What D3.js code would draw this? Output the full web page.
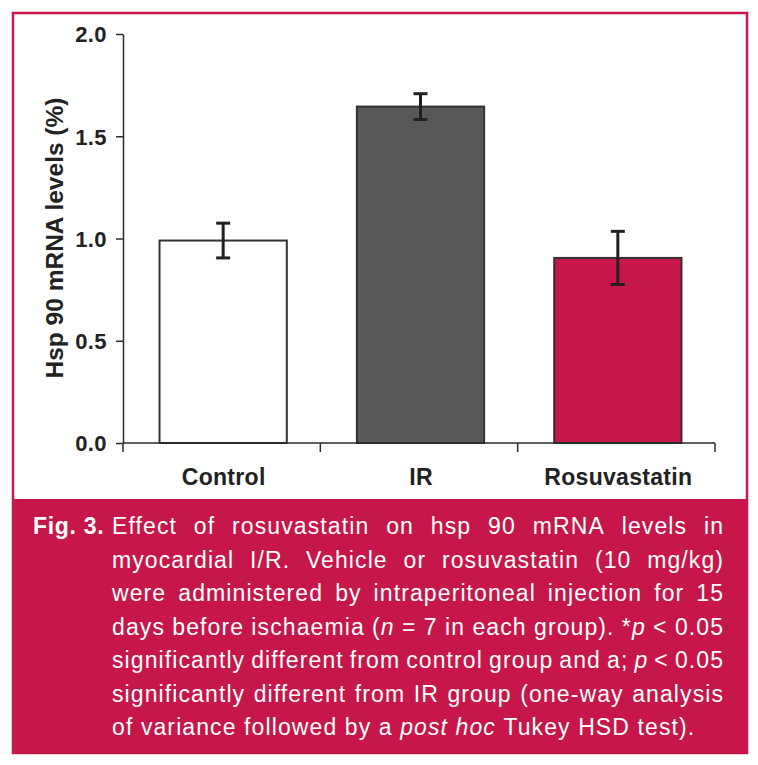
<!DOCTYPE html>
<html>
<head>
<meta charset="utf-8">
<script src="https://cdn.jsdelivr.net/npm/d3@7"></script>
<style>
  body { margin: 0; background: #fff; }
  text { font-family: "Liberation Sans", Arial, Helvetica, sans-serif; }
</style>
</head>
<body>
<svg id="chart"></svg>
<script>
// data
const categories = ["Control", "IR", "Rosuvastatin"];
const means = [0.99, 1.645, 0.905];
const errors = [0.085, 0.063, 0.13];
const yTicks = [0, 0.5, 1.0, 1.5, 2.0];
const yLabel = "Hsp 90 mRNA levels (%)";
const figTag = "Fig. 3.";
// _x_ marks italic runs
const captionLines = [
    "Effect of rosuvastatin on hsp 90 mRNA levels in",
    "myocardial I/R. Vehicle or rosuvastatin (10 mg/kg)",
    "were administered by intraperitoneal injection for 15",
    "days before ischaemia (_n_ = 7 in each group). *_p_ < 0.05",
    "significantly different from control group and a; _p_ < 0.05",
    "significantly different from IR group (one-way analysis",
    "of variance followed by a _post hoc_ Tukey HSD test)."
];

const W = 758, H = 765;
const crimson = "#c6164a";
const barColors = ["#ffffff", "#58585a", crimson];
const ink = "#2b2b2b";

const svg = d3.select("#chart")
    .attr("width", W)
    .attr("height", H);

// frame and caption panel
svg.append("rect")
    .attr("x", 13).attr("y", 13)
    .attr("width", 734).attr("height", 740)
    .attr("fill", "#fff")
    .attr("stroke", crimson)
    .attr("stroke-width", 2.5);

svg.append("rect")
    .attr("x", 12).attr("y", 499)
    .attr("width", 736).attr("height", 255)
    .attr("fill", crimson);

// scales
const plot = {left: 123, right: 715, top: 34, bottom: 443};

const x = d3.scaleBand()
    .domain(categories)
    .range([plot.left, plot.right])
    .paddingInner(0)
    .paddingOuter(0);

const y = d3.scaleLinear()
    .domain([0, 2])
    .range([plot.bottom, plot.top]);

const barW = x.bandwidth() * 0.645;
const g = svg.append("g");

// bars
g.selectAll(".bar")
    .data(categories)
    .enter()
    .append("rect")
    .attr("class", "bar")
    .attr("x", d => x(d) + x.bandwidth() / 2 - barW / 2 + 1.5)
    .attr("y", (d, i) => y(means[i]))
    .attr("width", barW)
    .attr("height", (d, i) => y(0) - y(means[i]))
    .attr("fill", (d, i) => barColors[i])
    .attr("stroke", "#333")
    .attr("stroke-width", 2);

// error bars
const eb = g.selectAll(".err")
    .data(categories)
    .enter()
    .append("g")
    .attr("class", "err")
    .attr("transform", d => "translate(" + (x(d) + x.bandwidth() / 2 + 1.5) + ",0)")
    .attr("stroke", "#231f20")
    .attr("stroke-width", 3);

eb.append("line")
    .attr("y1", (d, i) => y(means[i] + errors[i]))
    .attr("y2", (d, i) => y(means[i] - errors[i]));
eb.append("line")
    .attr("x1", -7).attr("x2", 7)
    .attr("y1", (d, i) => y(means[i] + errors[i]))
    .attr("y2", (d, i) => y(means[i] + errors[i]));
eb.append("line")
    .attr("x1", -7).attr("x2", 7)
    .attr("y1", (d, i) => y(means[i] - errors[i]))
    .attr("y2", (d, i) => y(means[i] - errors[i]));

// y axis
const yAxis = svg.append("g")
    .attr("transform", "translate(" + plot.left + ",0)")
    .call(d3.axisLeft(y)
        .tickValues(yTicks)
        .tickFormat(d3.format(".1f"))
        .tickSize(7)
        .tickSizeOuter(0)
        .tickPadding(9));
yAxis.selectAll("path, line").attr("stroke", ink).attr("stroke-width", 1.5);
yAxis.selectAll("text")
    .attr("fill", "#222")
    .style("font-size", "22px")
    .style("font-weight", "bold")
    .style("letter-spacing", "0.4px")
    .attr("dy", "0.36em");

// x axis: baseline with ticks at band edges
const xAxis = svg.append("g");
xAxis.append("line")
    .attr("x1", plot.left).attr("x2", plot.right)
    .attr("y1", y(0)).attr("y2", y(0))
    .attr("stroke", ink).attr("stroke-width", 1.5);
const edges = categories.map(c => x(c)).concat([x.range()[1]]);
xAxis.selectAll(".edge")
    .data(edges)
    .enter()
    .append("line")
    .attr("x1", d => d).attr("x2", d => d)
    .attr("y1", y(0)).attr("y2", y(0) + 9)
    .attr("stroke", ink).attr("stroke-width", 1.5);
xAxis.selectAll(".cat")
    .data(categories)
    .enter()
    .append("text")
    .attr("x", d => x(d) + x.bandwidth() / 2 + 2)
    .attr("y", 485)
    .attr("text-anchor", "middle")
    .attr("fill", "#222")
    .style("font-size", "23px")
    .style("font-weight", "bold")
    .style("letter-spacing", "0.3px")
    .text(d => d);

// y label
svg.append("text")
    .attr("transform", "translate(63," + 238 + ") rotate(-90)")
    .attr("text-anchor", "middle")
    .attr("fill", "#222")
    .style("font-size", "24.5px")
    .style("font-weight", "bold")
    .text(yLabel);

// caption
svg.append("text")
    .attr("x", 33).attr("y", 534)
    .attr("fill", "#fff")
    .style("font-size", "23px")
    .style("font-weight", "bold")
    .style("letter-spacing", "0.7px")
    .text(figTag);

const capLeft = 112, capRight = 723, capTop = 534, lineGap = 33.5;
const cap = svg.append("g")
    .attr("fill", "#fff")
    .style("font-size", "23px")
    .style("letter-spacing", "1.1px");

function addWord(parent, word) {
    const t = parent.append("text");
    word.split("_").forEach((part, k) => {
        if (part === "") return;
        t.append("tspan")
            .style("font-style", k % 2 === 1 ? "italic" : "normal")
            .text(part);
    });
    return t;
}

// keep italic markers intact when a run spans several words
function splitWords(line) {
    const words = [];
    let italic = false;
    line.split(" ").forEach(w => {
        let s = italic ? "_" + w : w;
        const n = (w.match(/_/g) || []).length;
        if (n % 2 === 1) italic = !italic;
        if (italic && !s.endsWith("_")) s = s + "_";
        words.push(s);
    });
    return words;
}

const spaceProbe = cap.append("text").text("a a");
const aProbe = cap.append("text").text("aa");
const spaceW = spaceProbe.node().getComputedTextLength() - aProbe.node().getComputedTextLength();
spaceProbe.remove();
aProbe.remove();

captionLines.forEach((line, li) => {
    const lineG = cap.append("g");
    const words = splitWords(line).map(w => addWord(lineG, w));
    // trailing letter-spacing is not part of the visible word
    const widths = words.map(t => t.node().getComputedTextLength() - 1.1);
    const total = d3.sum(widths);
    const last = li === captionLines.length - 1;
    const gap = last ? spaceW + 1.1 : (capRight - capLeft - total) / (words.length - 1);
    let xPos = capLeft;
    words.forEach((t, k) => {
        t.attr("x", xPos).attr("y", capTop + li * lineGap);
        xPos += widths[k] + gap;
    });
});
</script>
</body>
</html>
